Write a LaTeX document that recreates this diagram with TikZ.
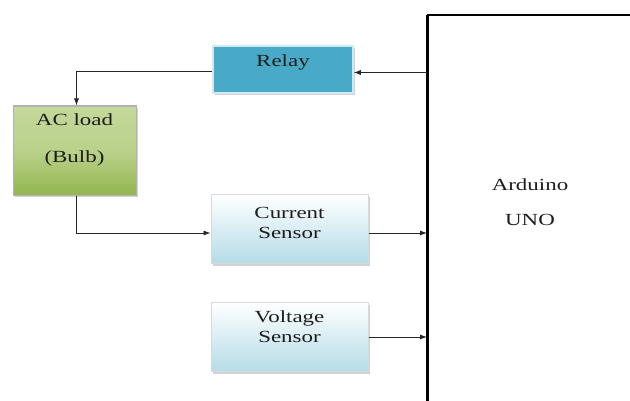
\documentclass[tikz,border=0pt]{standalone}
\usepackage{fontspec}
\setmainfont[FakeStretch=1.35]{Liberation Serif}
\usetikzlibrary{arrows.meta,shadows}
\definecolor{relayblue}{HTML}{48AAC6}
\definecolor{sensorblue}{HTML}{B4DCE7}
\definecolor{greentop}{HTML}{C4D89A}
\definecolor{greenbot}{HTML}{93B64E}
\definecolor{txt}{HTML}{1E1E1E}
\tikzset{
  box/.style={rectangle, inner sep=0pt, draw=gray!35, line width=1pt,
    drop shadow={shadow xshift=2pt, shadow yshift=-2pt, opacity=0.35, fill=gray}},
  relaybox/.style={box, fill=relayblue, draw=relayblue!25, line width=1.5pt, minimum width=140pt, minimum height=47pt},
  loadbox/.style={box, top color=greentop, bottom color=greenbot, middle color=greentop!80!greenbot,
    draw=gray!60, minimum width=123pt, minimum height=89pt},
  sensorbox/.style={box, top color=white, bottom color=sensorblue, draw=gray!30,
    minimum width=157pt, minimum height=69pt},
  lbl/.style={text=txt, font=\fontsize{17}{20}\selectfont, align=center, inner sep=0pt},
  conn/.style={line width=0.8pt, draw=black!85, -{Latex[length=7pt,width=5pt]}},
  rconn/.style={line width=0.8pt, draw=black!85, {Latex[length=7pt,width=5pt]}-},
}
\begin{document}
\begin{tikzpicture}[x=1pt,y=1pt]
\useasboundingbox (0,0) rectangle (630,400);
\fill[white] (0,0) rectangle (630,400);
% Arduino box
\node[rectangle, minimum width=240pt, minimum height=420pt, anchor=north west, inner sep=0pt] (ard) at (427,385) {};
\begin{scope}
\clip (0,0) rectangle (630,400);
\draw[line width=2pt] (ard.north east) -- (ard.north west);
\draw[line width=3pt] (ard.north west) -- (ard.south west);
\end{scope}
\node[lbl] (ardtxt) at (530,197.5) {Arduino\\[15pt]UNO};
% Boxes
\node[relaybox] (relay) at (283,330.5) {};
\node[lbl] (relaytxt) at (283,338) {Relay};
\node[loadbox] (load) at (74.5,249.5) {};
\node[lbl] (loadtxt) at (74.5,260.5) {AC load\\[17pt](Bulb)};
\node[sensorbox] (cs) at (289.5,171) {};
\node[lbl] (cstxt) at (289.5,177.5) {Current\\[0pt]Sensor};
\node[sensorbox] (vs) at (289.5,63) {};
\node[lbl] (vstxt) at (289.5,73) {Voltage\\[0pt]Sensor};
% Connectors
\draw[conn] (ard.west |- relay.east) ++(0,-3) -- ([yshift=-3pt]relay.east);
\draw[conn] ([yshift=-2pt]relay.west) -| ([xshift=2pt]load.north);
\draw[conn] ([xshift=2pt]load.south) |- ([yshift=-4pt]cs.west);
\draw[rconn] (ard.west |- cs.east) ++(0,-4) -- ([yshift=-4pt]cs.east);
\draw[conn] (vs.east) -- (ard.west |- vs.east);
\end{tikzpicture}
\end{document}
